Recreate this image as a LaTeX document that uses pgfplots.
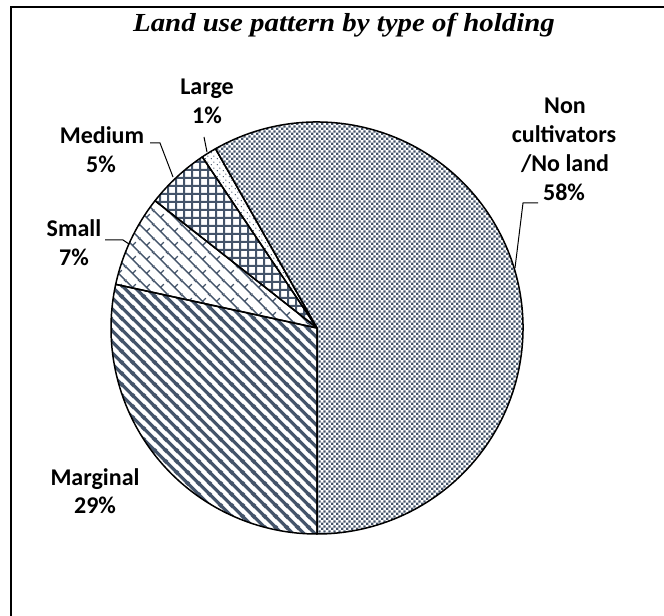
\documentclass[border=0pt]{standalone}
\usepackage{pgfplots}
\pgfplotsset{compat=1.18}
\usetikzlibrary{patterns.meta}
\usepackage{fontspec}
\setmainfont{Carlito}
\newfontfamily\titlefont[FakeStretch=1.11]{Liberation Serif}
\definecolor{slate}{HTML}{44546A}

% ---- patterns ----
\tikzdeclarepattern{name=pnon, type=uncolored,
  bounding box={(0,0) and (2.4bp,2.4bp)}, tile size={(2.4bp,2.4bp)},
  code={\fill (0,0) rectangle (1.3bp,1.3bp); \fill (1.2bp,1.2bp) rectangle (2.4bp,2.4bp);}}
\tikzdeclarepattern{name=pmarg, type=uncolored,
  bounding box={(0,0) and (5.6bp,5.6bp)}, tile size={(5.6bp,5.6bp)},
  code={\draw[line width=1.7bp] (-0.2bp,5.8bp) -- (5.8bp,-0.2bp)
        (-2.8bp,2.8bp) -- (2.8bp,-2.8bp) (2.8bp,8.4bp) -- (8.4bp,2.8bp);}}
\tikzdeclarepattern{name=psmall, type=uncolored,
  bounding box={(0,0) and (7bp,7bp)}, tile size={(7bp,7bp)},
  code={\draw[line width=0.7bp] (-0.2bp,7.2bp) -- (7.2bp,-0.2bp)
        (-3.5bp,3.5bp) -- (3.5bp,-3.5bp) (3.5bp,10.5bp) -- (10.5bp,3.5bp)
        (3.5bp,3.5bp) -- (5.25bp,5.25bp);}}
\tikzdeclarepattern{name=pmed, type=uncolored,
  bounding box={(0,0) and (4.2bp,4.2bp)}, tile size={(4.2bp,4.2bp)},
  code={\fill (0,0) rectangle (4.2bp,1.1bp); \fill (0,0) rectangle (1.1bp,4.2bp);}}
\tikzdeclarepattern{name=plarge, type=uncolored,
  bounding box={(0,0) and (3bp,3bp)}, tile size={(3bp,3bp)},
  code={\fill (0.75bp,0.75bp) circle (0.4bp); \fill (2.25bp,2.25bp) circle (0.4bp);}}

% ---- data (per cent) ----
\def\vMarginal{28.4}
\def\vSmall{7.2}
\def\vMedium{5.0}
\def\vLarge{1.2}
\def\vNon{58.2}
\pgfmathsetmacro{\aA}{270}
\pgfmathsetmacro{\aB}{\aA-3.6*\vMarginal}
\pgfmathsetmacro{\aC}{\aB-3.6*\vSmall}
\pgfmathsetmacro{\aD}{\aC-3.6*\vMedium}
\pgfmathsetmacro{\aE}{\aD-3.6*\vLarge}
\pgfmathsetmacro{\aF}{\aE-3.6*\vNon}
\def\R{103bp}

\begin{document}
\begin{tikzpicture}
\begin{axis}[x=0.5bp, y=0.5bp, xmin=0, xmax=664, ymin=0, ymax=616,
  hide axis, clip=false, scale only axis]
\coordinate (BL) at (axis cs:0,0);
\coordinate (TR) at (axis cs:664,616);
\coordinate (C) at (axis cs:317,288);
% slices
\filldraw[pattern=pmarg, pattern color=slate, draw=black, line width=0.75bp, line join=round]
  (C) -- ++(\aA:\R) arc[start angle=\aA, end angle=\aB, radius=\R] -- cycle;
\filldraw[pattern=psmall, pattern color=slate, draw=black, line width=0.75bp, line join=round]
  (C) -- ++(\aB:\R) arc[start angle=\aB, end angle=\aC, radius=\R] -- cycle;
\filldraw[pattern=pmed, pattern color=slate, draw=black, line width=0.75bp, line join=round]
  (C) -- ++(\aC:\R) arc[start angle=\aC, end angle=\aD, radius=\R] -- cycle;
\filldraw[pattern=plarge, pattern color=slate, draw=black, line width=0.75bp, line join=round]
  (C) -- ++(\aD:\R) arc[start angle=\aD, end angle=\aE, radius=\R] -- cycle;
\filldraw[pattern=pnon, pattern color=slate, draw=black, line width=0.75bp, line join=round]
  (C) -- ++(\aE:\R) arc[start angle=\aE, end angle=\aF, radius=\R] -- cycle;
% frame (left and top edges)
\draw[line width=1bp] (axis cs:11,0) -- (axis cs:11,608.5) -- (axis cs:664,608.5);
% title
\node[anchor=base, inner sep=0pt] at (axis cs:344,584)
  {\titlefont\bfseries\itshape\fontsize{13bp}{15bp}\selectfont Land use pattern by type of holding};
% labels
\begin{scope}[every node/.style={anchor=base, inner sep=0pt, font=\bfseries\fontsize{12bp}{14.5bp}\selectfont}]
\node at (axis cs:207,521) {Large};
\node at (axis cs:207,492) {1\%};
\node at (axis cs:102,472) {Medium};
\node at (axis cs:101,443) {5\%};
\node at (axis cs:74,379) {Small};
\node at (axis cs:74,350.5) {7\%};
\node at (axis cs:95,130) {Marginal};
\node at (axis cs:95,102) {29\%};
\node at (axis cs:565,502.4) {Non};
\node at (axis cs:564,473) {cultivators};
\node at (axis cs:565,444) {/No land};
\node at (axis cs:564,415.5) {58\%};
\end{scope}
% leader lines
\draw[line width=0.5bp] (axis cs:204,479) -- (axis cs:207,464);
\draw[line width=0.5bp] (axis cs:150,473) -- (axis cs:160,473) -- (axis cs:173,439);
\draw[line width=0.5bp] (axis cs:105,376) -- (axis cs:123,376) -- (axis cs:129,372);
\draw[line width=0.5bp] (axis cs:538,413) -- (axis cs:523,413) -- (axis cs:515,348);
\end{axis}
\pgfresetboundingbox
\path[use as bounding box] (BL) rectangle (TR);
\end{tikzpicture}
\end{document}
